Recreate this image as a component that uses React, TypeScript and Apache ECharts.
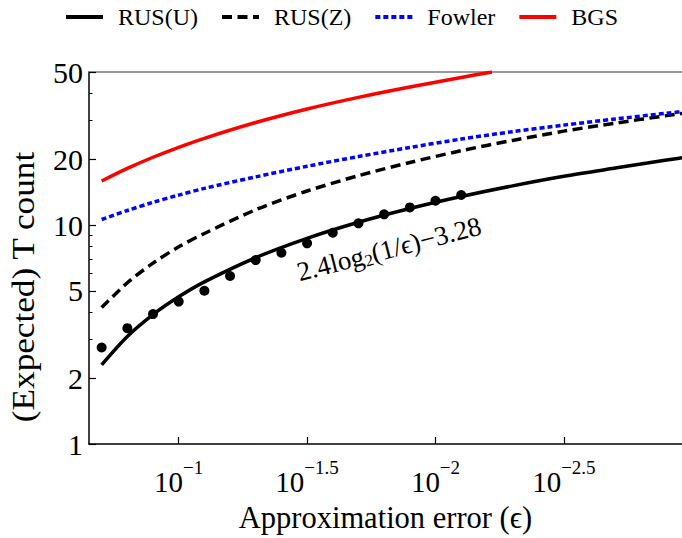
import React, { useEffect, useRef } from 'react';
import * as echarts from 'echarts';

// x values are log10(1/epsilon); y values are T counts
const logInvEps = [0.7, 0.8, 0.9, 1.0, 1.1, 1.3, 1.5, 1.7, 1.9, 2.1, 2.3, 2.5, 2.7, 2.9, 3.0];
const rusU = [2.3, 3.1, 3.9, 4.7, 5.5, 7.1, 8.7, 10.3, 11.9, 13.5, 15.1, 16.7, 18.2, 19.8, 20.6];
const rusZ = [4.2, 5.45, 6.7, 7.95, 9.15, 11.75, 14.3, 16.8, 19.3, 21.85, 24.35, 26.85, 29.2, 31.6, 32.8];
const fowler = [10.6, 11.65, 12.7, 13.7, 14.7, 16.6, 18.55, 20.55, 22.6, 24.7, 26.7, 28.6, 30.5, 32.4, 33.3];
const bgsLogInvEps = [0.7, 0.8, 0.9, 1.0, 1.1, 1.3, 1.5, 1.7, 1.9, 2.1, 2.22];
const bgs = [15.9, 18.15, 20.4, 22.65, 24.9, 29.4, 33.9, 38.3, 42.7, 47.2, 50.0];
const dotLogInvEps = [0.7, 0.8, 0.9, 1.0, 1.1, 1.2, 1.3, 1.4, 1.5, 1.6, 1.7, 1.8, 1.9, 2.0, 2.1];
const dotCounts = [2.76, 3.38, 3.92, 4.47, 5.01, 5.85, 6.92, 7.47, 8.25, 9.22, 10.18, 11.19, 12.04, 12.91, 13.71];
const xTickExps = [1, 1.5, 2, 2.5];
const yTickLabels = [1, 2, 5, 10, 20, 50];
const yMinorTicks = [3, 4, 6, 7, 8, 9, 30, 40];
const legendNames = ['RUS(U)', 'RUS(Z)', 'Fowler', 'BGS'];

const X_MIN = 0.6507;
const X_MAX = 2.96;
const Y_MAX_COUNT = 50;
const FONT = "'Liberation Serif', 'Times New Roman', serif";

const toPts = (xs: number[], ys: number[]) => xs.map((x, i) => [x, Math.log10(ys[i])]);

export default function App() {
  const ref = useRef<HTMLDivElement>(null);
  useEffect(() => {
    const chart = echarts.init(ref.current!, undefined, { renderer: 'svg' });
    const yMax = Math.log10(Y_MAX_COUNT);
    const option: any = {
      animation: false,
      backgroundColor: '#fff',
      textStyle: { fontFamily: FONT, color: '#000' },
      grid: { left: 89, right: 0, top: 72, bottom: 94, containLabel: false, outerBoundsMode: 'none' },
      legend: {
        data: legendNames,
        top: 0,
        left: 'center',
        itemWidth: 37,
        itemHeight: 14,
        itemGap: 22,
        itemStyle: { opacity: 0 },
        lineStyle: { width: 4 },
        textStyle: { fontSize: 24, fontFamily: FONT, color: '#000', padding: [0, 0, 0, 10] },
      },
      xAxis: [
        {
          type: 'value',
          min: X_MIN,
          max: X_MAX,
          position: 'bottom',
          axisLine: { show: true, onZero: false, lineStyle: { color: '#000', width: 1.5 } },
          axisTick: { show: true, inside: true, length: 7, customValues: xTickExps, lineStyle: { color: '#000', width: 1.2 } },
          axisLabel: {
            customValues: xTickExps,
            margin: 21,
            formatter: (v: number) => `{b|10}{s|\u2212${Number(v.toFixed(2))}}`,
            rich: {
              b: { fontSize: 29, fontFamily: FONT, color: '#000', lineHeight: 22, padding: [11, 0, 0, 0] },
              s: { fontSize: 19, fontFamily: FONT, color: '#000', lineHeight: 16, padding: [0, 0, 17, 0] },
            },
          },
          splitLine: { show: false },
          name: 'Approximation error (\u03f5)',
          nameLocation: 'middle',
          nameGap: 58,
          nameTextStyle: { fontSize: 30.5, fontFamily: FONT, color: '#000' },
        },
        {
          type: 'value',
          min: X_MIN,
          max: X_MAX,
          position: 'top',
          axisLine: { show: true, onZero: false, lineStyle: { color: '#777', width: 1.5 } },
          axisTick: { show: false },
          axisLabel: { show: false },
          splitLine: { show: false },
        },
      ],
      yAxis: [
        {
          type: 'value',
          min: 0,
          max: yMax,
          position: 'left',
          axisLine: { show: true, onZero: false, lineStyle: { color: '#000', width: 1.5 } },
          axisTick: {
            show: true,
            inside: true,
            length: 7,
            customValues: yTickLabels.map((t) => Math.log10(t)),
            lineStyle: { color: '#000', width: 1.2 },
          },
          axisLabel: {
            customValues: yTickLabels.map((t) => Math.log10(t)),
            formatter: (v: number) => String(Math.round(Math.pow(10, v))),
            fontSize: 30,
            fontFamily: FONT,
            color: '#000',
            margin: 6,
          },
          splitLine: { show: false },
        },
        {
          type: 'value',
          min: 0,
          max: yMax,
          position: 'left',
          axisLine: { show: false },
          axisTick: {
            show: true,
            inside: true,
            length: 3.5,
            customValues: yMinorTicks.map((t) => Math.log10(t)),
            lineStyle: { color: '#000', width: 1 },
          },
          axisLabel: { show: false },
          splitLine: { show: false },
        },
      ],
      graphic: [
        {
          type: 'text',
          x: 23,
          y: 287,
          rotation: Math.PI / 2,
          scaleX: 1.1,
          style: {
            text: '(Expected) T count',
            fontSize: 32,
            fontFamily: FONT,
            fill: '#000',
            align: 'center',
            verticalAlign: 'middle',
          },
        },
        {
          type: 'text',
          x: 389,
          y: 249,
          rotation: 0.253,
          style: {
            text: '2.4log{sub|2}(1/\u03f5)\u22123.28',
            fontSize: 27,
            fontFamily: FONT,
            fill: '#000',
            align: 'center',
            verticalAlign: 'middle',
            lineHeight: 30,
            rich: {
              sub: { fontSize: 17, fontFamily: FONT, fill: '#000', lineHeight: 18, padding: [12, 0, 0, 0] },
            },
          },
        },
      ],
      series: [
        {
          name: 'RUS(U)',
          type: 'line',
          data: toPts(logInvEps, rusU),
          symbol: 'none',
          smooth: 0.3,
          lineStyle: { color: '#000', width: 3.5 },
          itemStyle: { color: '#000' },
        },
        {
          name: 'RUS(Z)',
          type: 'line',
          data: toPts(logInvEps, rusZ),
          symbol: 'none',
          smooth: 0.3,
          lineStyle: { color: '#000', width: 3.5, type: [10, 5.5] },
          itemStyle: { color: '#000' },
        },
        {
          name: 'Fowler',
          type: 'line',
          data: toPts(logInvEps, fowler),
          symbol: 'none',
          smooth: 0.3,
          lineStyle: { color: '#0000ff', width: 3.5, type: [5, 3] },
          itemStyle: { color: '#0000ff' },
        },
        {
          name: 'BGS',
          type: 'line',
          data: toPts(bgsLogInvEps, bgs),
          symbol: 'none',
          smooth: 0.3,
          lineStyle: { color: '#ff0000', width: 3.5 },
          itemStyle: { color: '#ff0000' },
        },
        {
          name: 'RUS(U) samples',
          type: 'scatter',
          data: toPts(dotLogInvEps, dotCounts),
          symbol: 'circle',
          symbolSize: 10,
          itemStyle: { color: '#000', opacity: 1 },
          z: 5,
        },
      ],
    };
    chart.setOption(option);
    return () => chart.dispose();
  }, []);
  return <div ref={ref} style={{ position: 'fixed', left: 0, top: 0, width: 682, height: 538 }} />;
}
